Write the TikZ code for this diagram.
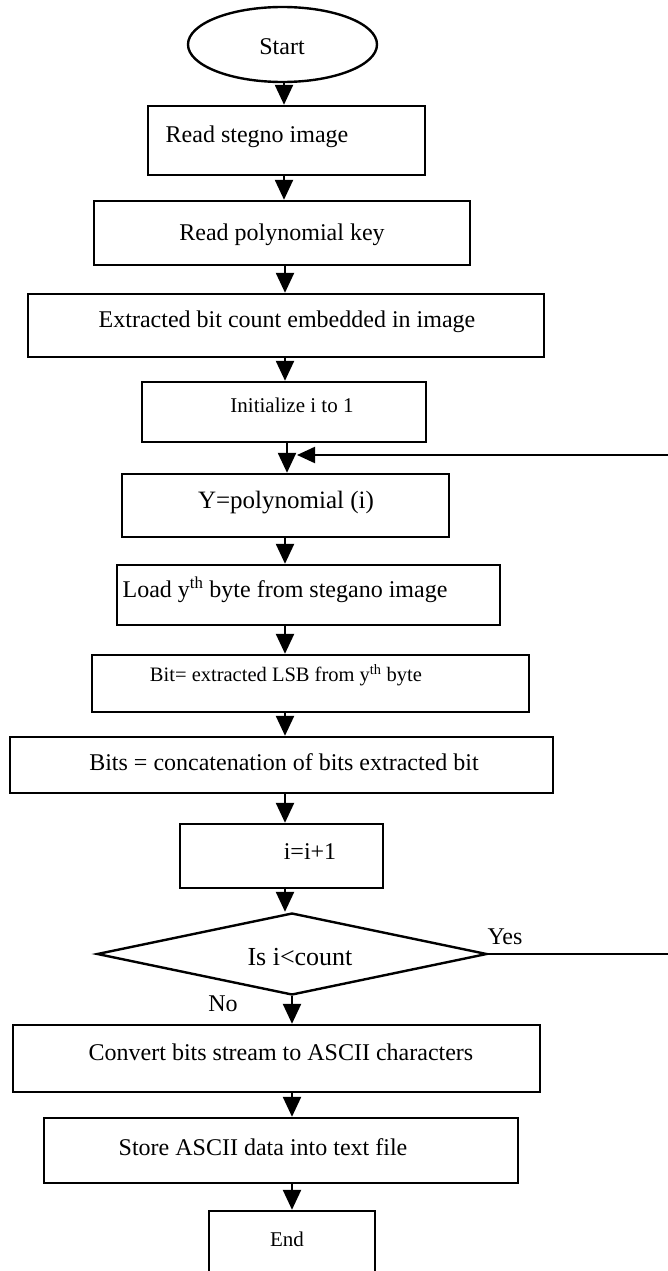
\documentclass[tikz,border=0pt]{standalone}
\usepackage{fontspec}
\setmainfont{Liberation Serif}
\usetikzlibrary{shapes.geometric,arrows.meta}
\begin{document}
\begin{tikzpicture}[x=1pt,y=-1pt,
  box/.style={draw,line width=2.4pt,inner sep=0pt},
  txt/.style={inner sep=0pt,font=\fontsize{24}{28}\selectfont},
  smalltxt/.style={inner sep=0pt,font=\fontsize{21}{25}\selectfont},
  arr/.style={line width=2.4pt,-{Triangle[width=18pt,length=20pt]}},
  looparr/.style={line width=2.2pt,-{Triangle[width=16pt,length=18pt]}},
  plain/.style={line width=2pt}]
\useasboundingbox (0,0) rectangle (668,1271);
\clip (0,0) rectangle (668,1271);
% shapes
\node[box,ellipse,minimum width=189pt,minimum height=75pt] (start) at (282.5,44.5) {};
\node[txt] (tstart) at (282,47) {Start};
\node[box,minimum width=277pt,minimum height=69pt] (b1) at (286.5,140.5) {};
\node[txt] (t1) at (257,137) {Read stegno image};
\node[box,minimum width=376pt,minimum height=64pt] (b2) at (282,233) {};
\node[txt] (t2) at (282,235) {Read polynomial key};
\node[box,minimum width=516pt,minimum height=63pt] (b3) at (286,325.5) {};
\node[txt] (t3) at (287,322) {Extracted bit count embedded in image};
\node[box,minimum width=284pt,minimum height=60pt] (b4) at (284,412) {};
\node[smalltxt] (t4) at (292,405) {Initialize i to 1};
\node[box,minimum width=327pt,minimum height=63pt] (b5) at (285.5,505.5) {};
\node[inner sep=0pt,font=\fontsize{25}{29}\selectfont] (t5) at (286,503) {Y=polynomial (i)};
\node[box,minimum width=383pt,minimum height=60pt] (b6) at (308.5,595) {};
\node[txt] (t6) at (285,590) {Load y\textsuperscript{th} byte from stegano image};
\node[box,minimum width=437pt,minimum height=57pt] (b7) at (310.5,683.5) {};
\node[inner sep=0pt,font=\fontsize{20.5}{24}\selectfont] (t7) at (286,675) {Bit= extracted LSB from y\textsuperscript{th} byte};
\node[box,minimum width=543pt,minimum height=56pt] (b8) at (281.5,765) {};
\node[txt] (t8) at (284,762) {Bits = concatenation of bits extracted bit};
\node[box,minimum width=203pt,minimum height=64pt] (b9) at (281.5,856) {};
\node[txt] (t9) at (310,852) {i=i+1};
\node[box,diamond,minimum width=390pt,minimum height=82pt] (dia) at (292,954) {};
\node[inner sep=0pt,font=\fontsize{26}{30}\selectfont] (tdia) at (300,957) {Is i<count};
\node[txt] (yes) at (505,937) {Yes};
\node[txt] (no) at (223,1004) {No};
\node[box,minimum width=527pt,minimum height=67pt] (b10) at (276.5,1058.5) {};
\node[txt] (t10) at (281,1052) {Convert bits stream to ASCII characters};
\node[box,minimum width=474pt,minimum height=65pt] (b11) at (281,1150.5) {};
\node[txt] (t11) at (263,1147) {Store ASCII data into text file};
\node[box,minimum width=166pt,minimum height=120pt] (bend) at (292,1271) {};
\node[smalltxt] (tend) at (287,1239) {End};
% connectors
\coordinate (c1) at (284,0);
\coordinate (c2) at (285,0);
\coordinate (c3) at (287,0);
\coordinate (c4) at (292,0);
\draw[arr] (start.south -| c1) -- (b1.north -| c1);
\draw[arr] (b1.south -| c1) -- (b2.north -| c1);
\draw[arr] (b2.south -| c2) -- (b3.north -| c2);
\draw[arr] (b3.south -| c2) -- (b4.north -| c2);
\draw[arr] (b4.south -| c3) -- (b5.north -| c3);
\draw[arr] (b5.south -| c2) -- (b6.north -| c2);
\draw[arr] (b6.south -| c2) -- (b7.north -| c2);
\draw[arr] (b7.south -| c2) -- (b8.north -| c2);
\draw[arr] (b8.south -| c2) -- (b9.north -| c2);
\draw[arr] (b9.south -| c2) -- (dia.north -| c2);
\draw[arr] (dia.south) -- (b10.north -| dia.south);
\draw[arr] (b10.south -| c4) -- (b11.north -| c4);
\draw[arr] (b11.south -| c4) -- (bend.north -| c4);
\coordinate (loopin) at (668,455);
\coordinate (looptip) at (297,455);
\draw[looparr] (loopin) -- (looptip);
\coordinate (yesout) at (668,954);
\draw[plain] (dia.east) -- (yesout);
\end{tikzpicture}
\end{document}
